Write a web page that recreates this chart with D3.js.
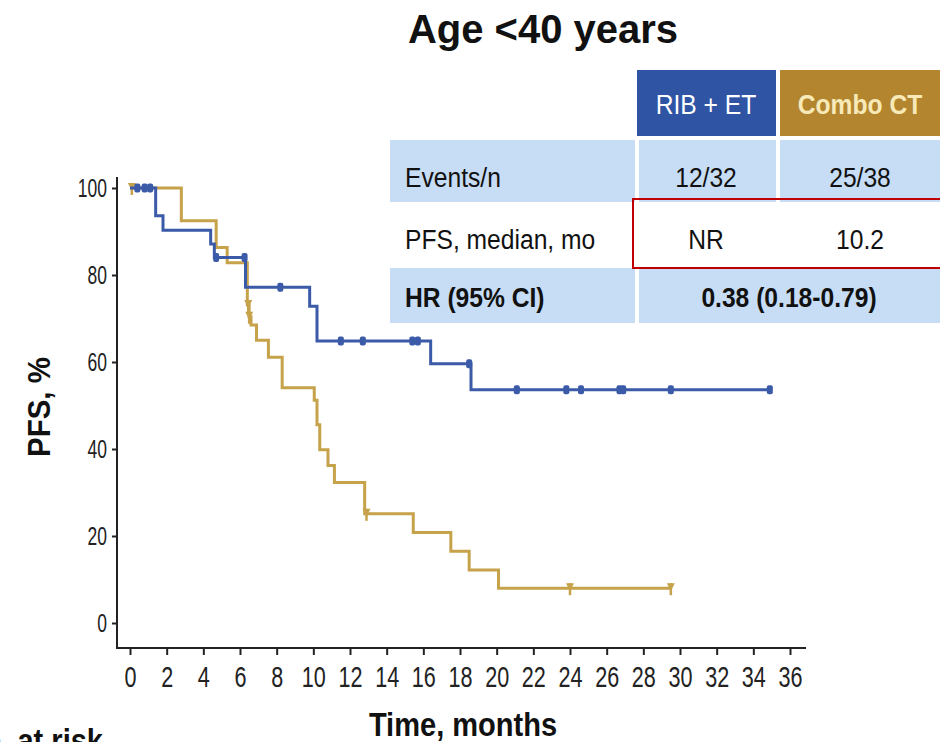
<!DOCTYPE html>
<html>
<head>
<meta charset="utf-8">
<script src="https://cdn.jsdelivr.net/npm/d3@7"></script>
<style>
  body { margin: 0; background: #fff; }
  svg { display: block; font-family: "Liberation Sans", Arial, Helvetica, sans-serif; }
</style>
</head>
<body>
<svg id="chart" width="940" height="742"></svg>
<script>
// Kaplan–Meier PFS steps: time (months) and PFS (%) after each drop
const ribTimes = [0, 1.4, 1.8, 4.4, 4.6, 6.3, 9.8, 10.2, 16.4, 18.6, 35.0];
const ribSurv  = [100, 93.6, 90.3, 87.1, 84.0, 77.2, 72.8, 64.8, 59.6, 53.6, 53.6];
const ribCensorTimes = [0.4, 0.8, 1.1, 4.7, 6.25, 8.2, 11.5, 12.7, 15.4, 15.7, 18.5, 21.1, 23.8, 24.6, 26.7, 26.9, 29.5, 34.9];

const comboTimes = [0, 2.8, 4.7, 5.3, 6.4, 6.5, 6.6, 6.9, 7.55, 8.3, 10.05, 10.2, 10.35, 10.8, 11.15, 12.8, 15.45, 17.5, 18.5, 20.1, 29.5];
const comboSurv  = [100, 92.5, 86.3, 82.8, 73.1, 70.4, 68.5, 65.0, 61.1, 54.1, 51.2, 45.6, 39.8, 36.2, 32.3, 25.1, 20.8, 16.5, 12.2, 8.0, 8.0];
const comboCensorTimes = [0.1, 6.45, 6.5, 12.9, 24.0, 29.5];

// Axis ticks
const xTickValues = [0, 2, 4, 6, 8, 10, 12, 14, 16, 18, 20, 22, 24, 26, 28, 30, 32, 34, 36];
const yTickValues = [0, 20, 40, 60, 80, 100];

// Summary table
const tableHeaders = ["RIB + ET", "Combo CT"];
const rowLabels = ["Events/n", "PFS, median, mo", "HR (95% CI)"];
const ribValues = ["12/32", "NR"];
const comboValues = ["25/38", "10.2"];
const hrValue = "0.38 (0.18-0.79)";

const colors = { rib: "#3b5ba8", combo: "#c6a24a", ribHead: "#2f54a4", comboHead: "#b3852e", row: "#c7ddf5" };

const svg = d3.select("#chart");

const x = d3.scaleLinear().domain([0, 36]).range([130, 790]);
const y = d3.scaleLinear().domain([0, 100]).range([623, 188]);

// Condensed text: glyphs squeezed horizontally around the anchor point
function label(parent, px, py, str, size, k, opts = {}) {
  const t = parent.append("text")
    .attr("transform", `translate(${px},${py})${opts.rotate ? ` rotate(${opts.rotate})` : ""} scale(${k},1)`)
    .attr("text-anchor", opts.anchor || "start")
    .attr("fill", opts.fill || "#111")
    .style("font-size", size + "px")
    .style("font-weight", opts.bold ? "bold" : "normal")
    .text(str);
  if (opts.central) t.attr("dominant-baseline", "central");
  return t;
}
function narrowTicks(sel, k) {
  sel.each(function () {
    const t = d3.select(this);
    const tx = +t.attr("x") || 0, ty = +t.attr("y") || 0;
    t.attr("x", 0).attr("y", 0).attr("transform", `translate(${tx},${ty}) scale(${k},1)`);
  });
}

// Title
label(svg, 543, 43, "Age <40 years", 40, 1, { anchor: "middle", bold: true });

// Table
const tbl = svg.append("g");
const colX = [390, 639, 780], colW = [245, 137, 160];
const tk = 0.88, tSize = 28;
tbl.append("rect").attr("x", 637).attr("y", 70).attr("width", 139).attr("height", 66).attr("fill", colors.ribHead);
tbl.append("rect").attr("x", 780).attr("y", 70).attr("width", 160).attr("height", 66).attr("fill", colors.comboHead);
label(tbl, 706, 104, tableHeaders[0], tSize, tk, { anchor: "middle", central: true, fill: "#fff" });
label(tbl, 860, 104, tableHeaders[1], tSize, tk, { anchor: "middle", central: true, fill: "#f7e9b8", bold: true });

const rowY = [140, 204, 268], rowH = [62, 62, 55], rowFill = [colors.row, "#fff", colors.row];
const textY = [177, 239, 297];
rowLabels.forEach((lab, i) => {
  const cells = i === 2 ? [[390, 245], [639, 301]] : colX.map((cx, j) => [cx, colW[j]]);
  cells.forEach(([cx, cw]) => tbl.append("rect").attr("x", cx).attr("y", rowY[i]).attr("width", cw).attr("height", rowH[i]).attr("fill", rowFill[i]));
  const cy = textY[i];
  label(tbl, 405, cy, lab, tSize, tk, { central: true, bold: i === 2 });
  if (i < 2) {
    label(tbl, 706, cy, ribValues[i], tSize, tk, { anchor: "middle", central: true });
    label(tbl, 860, cy, comboValues[i], tSize, tk, { anchor: "middle", central: true });
  } else {
    label(tbl, 789, cy, hrValue, tSize, tk, { anchor: "middle", central: true, bold: true });
  }
});
// Highlight around the medians
tbl.append("rect").attr("x", 633).attr("y", 199).attr("width", 312).attr("height", 69)
  .attr("fill", "none").attr("stroke", "#c00000").attr("stroke-width", 2);

// Axes
const xAxis = svg.append("g").attr("transform", "translate(0,648)")
  .call(d3.axisBottom(x).tickValues(xTickValues).tickSize(7).tickPadding(11));
const yAxis = svg.append("g").attr("transform", "translate(117,0)")
  .call(d3.axisLeft(y).tickValues(yTickValues).tickSize(5).tickPadding(5));
[xAxis, yAxis].forEach(a => {
  a.select(".domain").remove();
  a.selectAll(".tick line").attr("stroke", "#222").attr("stroke-width", 2);
  a.selectAll(".tick text").attr("fill", "#222");
});
xAxis.selectAll(".tick text").style("font-size", "30px").call(narrowTicks, 0.72);
yAxis.selectAll(".tick text").style("font-size", "25px").call(narrowTicks, 0.7);
svg.append("line").attr("x1", 117).attr("x2", 117).attr("y1", 177).attr("y2", 649).attr("stroke", "#222").attr("stroke-width", 2);
svg.append("line").attr("x1", 116).attr("x2", 806).attr("y1", 648).attr("y2", 648).attr("stroke", "#222").attr("stroke-width", 2);

// Axis titles
label(svg, 50, 407, "PFS, %", 32, 0.92, { anchor: "middle", bold: true, rotate: -90 });
label(svg, 463, 736, "Time, months", 33, 0.88, { anchor: "middle", bold: true });
label(svg, 103, 752, "No. at risk", 33, 0.88, { anchor: "end", bold: true });

// Curves
const step = d3.line().x(d => x(d[0])).y(d => y(d[1])).curve(d3.curveStepAfter);
const survAt = (times, surv, t) => surv[Math.max(0, d3.bisectRight(times, t) - 1)];

const series = [
  { times: comboTimes, surv: comboSurv, censor: comboCensorTimes, color: colors.combo, mark: "tri" },
  { times: ribTimes, surv: ribSurv, censor: ribCensorTimes, color: colors.rib, mark: "dot" }
];
series.forEach(s => {
  svg.append("path").datum(d3.zip(s.times, s.surv))
    .attr("d", step).attr("fill", "none").attr("stroke", s.color).attr("stroke-width", 3);
  const g = svg.append("g");
  s.censor.forEach(t => {
    const cx = x(t), cy = y(survAt(s.times, s.surv, t));
    if (s.mark === "dot") {
      g.append("rect").attr("x", cx - 3).attr("y", cy - 4.5).attr("width", 6).attr("height", 9).attr("rx", 2)
        .attr("fill", s.color);
    } else {
      g.append("line").attr("x1", cx).attr("x2", cx).attr("y1", cy - 5).attr("y2", cy + 7)
        .attr("stroke", s.color).attr("stroke-width", 2.5);
      g.append("path").attr("d", `M${cx - 4},${cy - 5}L${cx + 4},${cy - 5}L${cx},${cy + 3}Z`).attr("fill", s.color);
    }
  });
});
</script>
</body>
</html>
